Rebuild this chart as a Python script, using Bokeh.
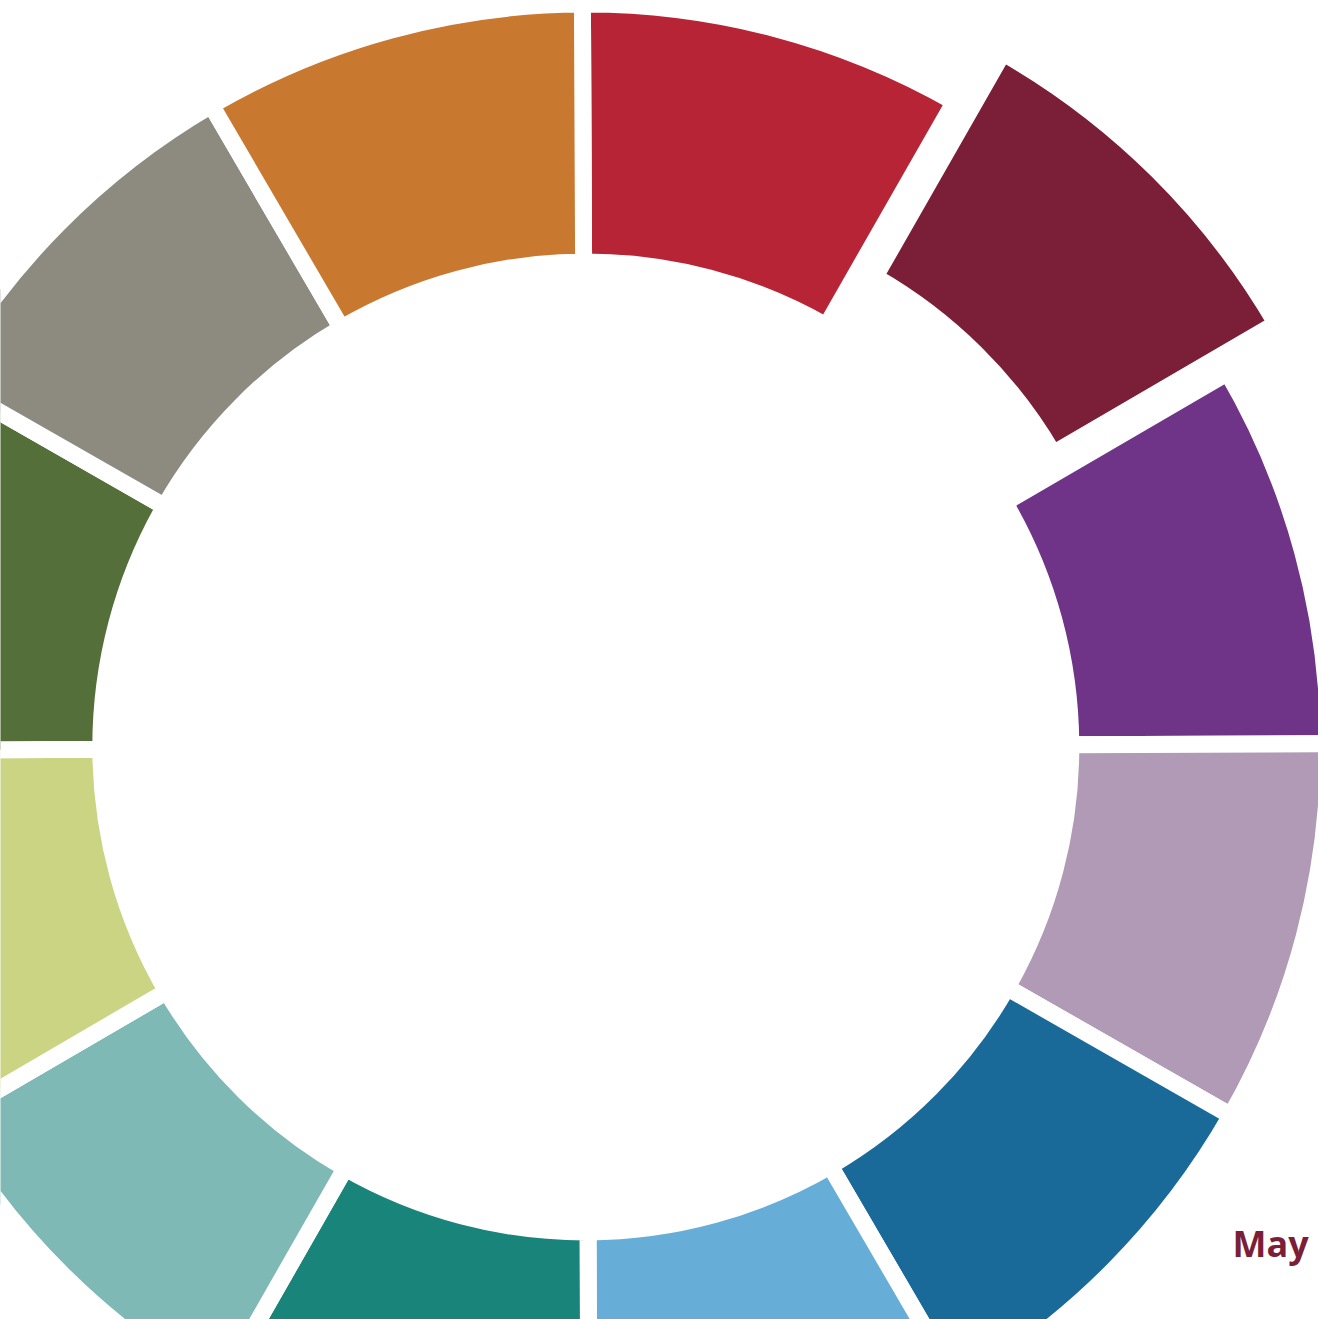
import math
from bokeh.plotting import figure
from bokeh.models import Range1d, ColumnDataSource, Label
from bokeh.embed import file_html
from bokeh.resources import INLINE

# ---- data ----
months = ["Jan", "Feb", "Mar", "Apr", "May", "Jun",
          "Jul", "Aug", "Sep", "Oct", "Nov", "Dec"]
values = [1, 1, 1, 1, 1, 1, 1, 1, 1, 1, 1, 1]
colors = ["#B72436", "#7B1E37", "#6F3487", "#B09AB5", "#1A6A99", "#66AED7",
          "#18847A", "#7EB9B5", "#CBD483", "#556F3A", "#8D8A80", "#C97830"]
highlight = "Feb"
label_text = "May"

# ---- layout (pixels) ----
W, H = 1318, 1319
OX, OY = 0, 0                   # page offset of the canvas
CX, CY = 585.3, 746.5           # donut centre in screen px
R_IN, R_OUT = 485, 743          # radii before the white stroke trims them
GAP = 17
EXPLODE = 69
START_DEG = 90.26

total = float(sum(values))
xs, ys, starts, ends = [], [], [], []
a = math.radians(START_DEG)
for m, v in zip(months, values):
    span = 2 * math.pi * v / total
    s, e = a, a - span
    mid = (s + e) / 2
    d = EXPLODE if m == highlight else 0
    xs.append(d * math.cos(mid))
    ys.append(d * math.sin(mid))
    starts.append(s)
    ends.append(e)
    a = e

src = ColumnDataSource(dict(x=xs, y=ys, start=starts, end=ends,
                            color=colors, month=months))

p = figure(width=W, height=H, output_backend="svg", toolbar_location=None,
           x_range=Range1d(OX - CX, OX + W - CX),
           y_range=Range1d(CY - (OY + H), CY - OY),
           x_axis_location=None, y_axis_location=None,
           min_border=0, outline_line_color=None,
           background_fill_color="white", border_fill_color="white")
p.grid.visible = False

p.annular_wedge(x="x", y="y", inner_radius=R_IN, outer_radius=R_OUT,
                start_angle="start", end_angle="end", direction="clock",
                fill_color="color", line_color="white", line_width=GAP,
                source=src)

p.add_layout(Label(x=1232 - CX, y=CY - 1243, text=label_text,
                   text_font="Open Sans", text_font_style="bold",
                   text_font_size="36px", text_color="#7B1E37",
                   text_align="left", text_baseline="middle"))

open("out.html", "w").write(file_html(p, INLINE))
